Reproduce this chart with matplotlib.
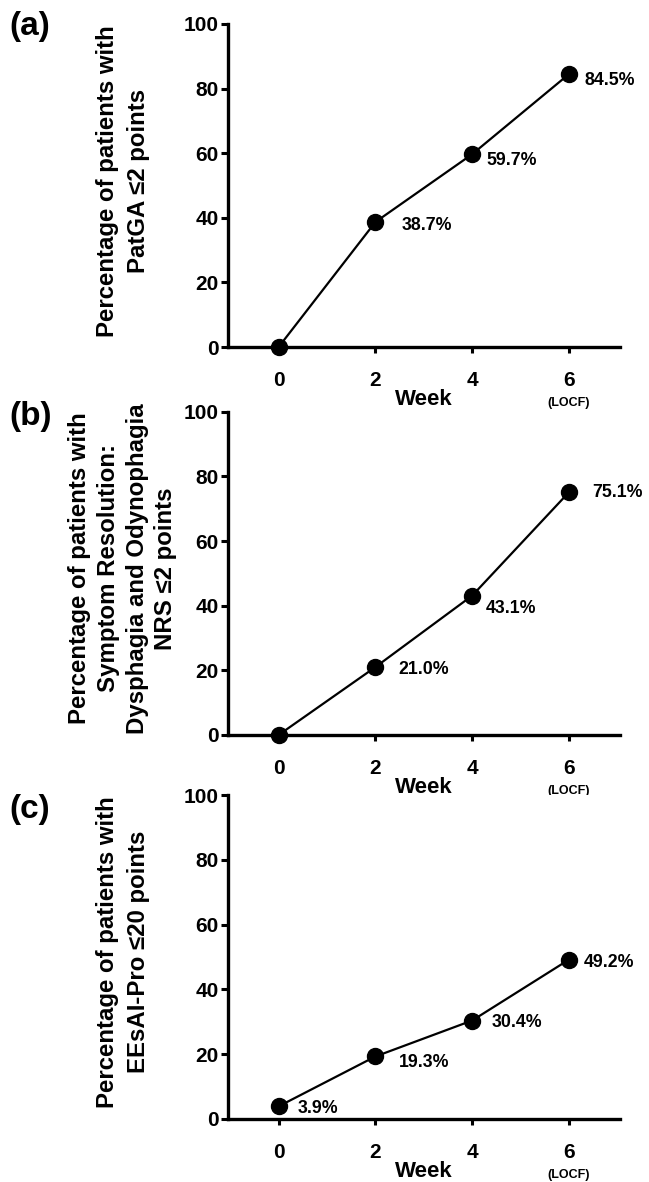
import numpy as np
import matplotlib
matplotlib.use('Agg')
from matplotlib import pyplot as plt
import matplotlib.transforms as mtransforms

plt.rcParams['font.family'] = ['Liberation Sans', 'DejaVu Sans']
plt.rcParams['font.weight'] = 'bold'

weeks = [0, 2, 4, 6]
week_labels = ['0', '2', '4', '6']
panel_letters = ['(a)', '(b)', '(c)']
ylabels = [
    'Percentage of patients with\nPatGA \u22642 points',
    'Percentage of patients with\nSymptom Resolution:\nDysphagia and Odynophagia\nNRS \u22642 points',
    'Percentage of patients with\nEEsAI-Pro \u226420 points',
]
pct_a = [0.0, 38.7, 59.7, 84.5]
pct_b = [0.0, 21.0, 43.1, 75.1]
pct_c = [3.9, 19.3, 30.4, 49.2]
point_labels_a = ['', '38.7%', '59.7%', '84.5%']
point_labels_b = ['', '21.0%', '43.1%', '75.1%']
point_labels_c = ['3.9%', '19.3%', '30.4%', '49.2%']

# label offsets in pixels (right, up)
offs_a = [(0, 0), (26, -3), (14, -6), (16, -6)]
offs_b = [(0, 0), (23, -2), (14, -13), (23, 0)]
offs_c = [(19, -2), (23, -6), (19, -2), (15, -3)]

series = [(pct_a, point_labels_a, offs_a),
          (pct_b, point_labels_b, offs_b),
          (pct_c, point_labels_c, offs_c)]

fig = plt.figure(figsize=(6.49, 11.82), dpi=100)
# axes boxes in figure fractions [left, bottom, width, height]
boxes = [[0.351, 0.7064, 0.604, 0.2733],
         [0.351, 0.3782, 0.604, 0.2735],
         [0.351, 0.0533, 0.604, 0.2741]]
letter_y = [0.991, 0.661, 0.328]
spacing = [1.45, 1.32, 1.45]

for i in range(3):
    vals, labs, offs = series[i]
    ax = fig.add_axes(boxes[i])
    ax.plot(weeks, vals, color='black', lw=1.6, marker='o', markersize=11.5,
            clip_on=False, zorder=5)
    for x, y, t, o in zip(weeks, vals, labs, offs):
        if t:
            ax.annotate(t, (x, y), xytext=o, textcoords='offset pixels',
                        ha='left', va='center', fontsize=12.8, fontweight='bold')
    ax.set_xlim(-1.05, 7.05)
    ax.set_ylim(0, 100)
    ax.set_yticks([0, 20, 40, 60, 80, 100])
    ax.set_xticks(weeks)
    ax.set_xticklabels(week_labels)
    for s in ['top', 'right']:
        ax.spines[s].set_visible(False)
    for s in ['left', 'bottom']:
        ax.spines[s].set_linewidth(2.4)
    ax.tick_params(axis='y', length=5, width=2.2, pad=1.5, labelsize=15)
    ax.tick_params(axis='x', length=4, width=2.2, pad=13, labelsize=15)
    ax.set_xlabel('Week', fontsize=16, fontweight='bold')
    ax.xaxis.set_label_coords(0.5, -0.13)
    trans = mtransforms.blended_transform_factory(ax.transData, ax.transAxes)
    ax.text(6, -0.172, '(LOCF)', transform=trans, ha='center', va='center',
            fontsize=9, fontweight='bold')
    ax.set_ylabel(ylabels[i], fontsize=17.3, fontweight='bold',
                  linespacing=spacing[i], va='center')
    ax.yaxis.set_label_coords(-0.268, 0.515)
    fig.text(0.015, letter_y[i], panel_letters[i], fontsize=24, fontweight='bold',
             ha='left', va='top')

fig.savefig('out.png', dpi=100)
